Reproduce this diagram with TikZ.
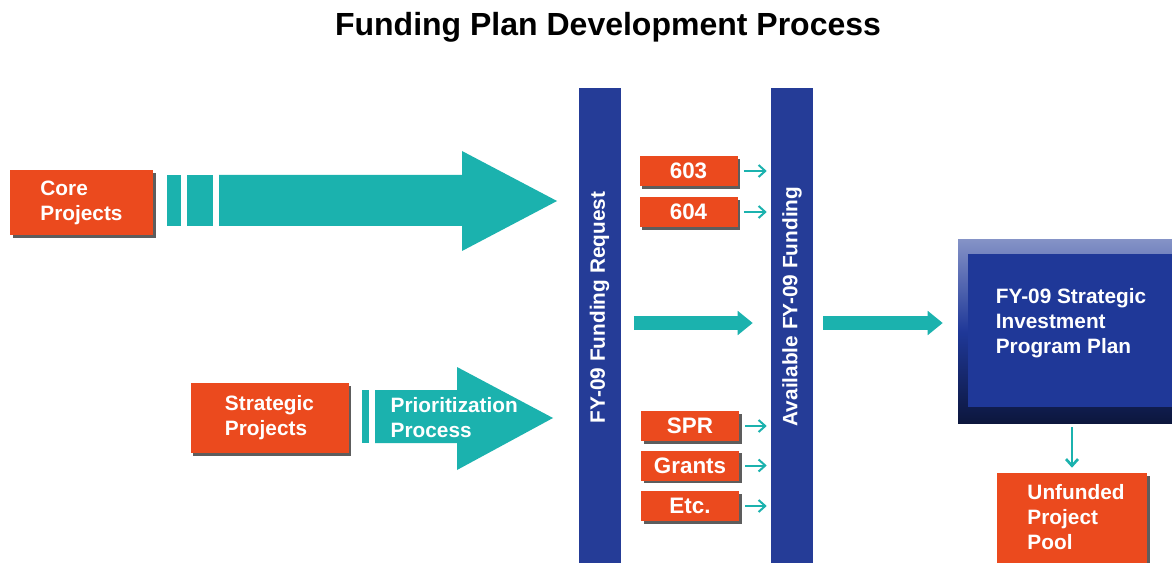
\documentclass[tikz,border=0pt]{standalone}
\usepackage{fontspec}
\setmainfont{Liberation Sans}
\usetikzlibrary{arrows.meta,shadows}
\definecolor{orng}{RGB}{235,74,30}
\definecolor{tealarrow}{RGB}{27,178,174}
\definecolor{barblue}{RGB}{37,60,151}
\definecolor{planblue}{RGB}{31,56,152}
\newcommand{\px}{0.75pt}

\begin{document}
\begin{tikzpicture}[x=0.75pt,y=-0.75pt,
  box/.style={fill=orng,text=white,inner sep=0pt,align=left,
    font=\bfseries\fontsize{15.6}{18.8}\selectfont,
    drop shadow={shadow xshift=2pt,shadow yshift=-2pt,fill=black!70,opacity=0.9}},
  smallbox/.style={box,font=\bfseries\fontsize{16.8}{18}\selectfont,
    minimum width=98*\px,minimum height=30*\px},
  bar/.style={fill=barblue,inner sep=0pt,minimum width=42*\px,minimum height=480*\px},
  bartext/.style={rotate=90,text=white,font=\bfseries\fontsize{15.6}{18.8}\selectfont},
  thinarrow/.style={draw=tealarrow,line width=1.5pt,-{Straight Barb[length=5pt,width=9pt]}},
  fatarrow/.style={draw=tealarrow,line width=9.75pt,-{Triangle[length=11.25pt,width=17.5pt]}},
  bigarrow/.style={fill=tealarrow}]
\useasboundingbox (0,0) rectangle (1172,563);
\fill[white] (0,0) rectangle (1172,563);
\clip (0,0) rectangle (1172,563);

\node[font=\bfseries\fontsize{24}{28}\selectfont] (title) at (608,27) {Funding Plan Development Process};

\node[box,minimum width=143*\px,minimum height=65*\px] (core) at (81.5,202.5) {Core\\Projects};
\node[box,minimum width=158*\px,minimum height=70*\px] (strat) at (269.5,418) {Strategic\\Projects};

\fill[bigarrow] (167,175) rectangle (181,226);
\fill[bigarrow] (187,175) rectangle (213,226);
\fill[bigarrow] (219,175) -- (462,175) -- (462,151) -- (557,201) -- (462,251) -- (462,226) -- (219,226) -- cycle;

\fill[bigarrow] (362,390) rectangle (369,443);
\fill[bigarrow] (375,390) -- (457,390) -- (457,367) -- (553,418) -- (457,470) -- (457,443) -- (375,443) -- cycle;
\node[anchor=west,text=white,align=left,font=\bfseries\fontsize{15.6}{18.8}\selectfont] (prio) at (386,417.5) {Prioritization\\Process};

\node[bar] (req) at (599.5,328) {};
\node[bartext] (reqtext) at (599.5,307.5) {FY-09 Funding Request};
\node[bar] (avail) at (792,328) {};
\node[bartext] (availtext) at (792,306.5) {Available FY-09 Funding};

\node[smallbox] (f603) at (688.5,171) {603};
\node[smallbox] (f604) at (688.5,212) {604};
\node[smallbox] (spr) at (690,426) {SPR};
\node[smallbox] (grants) at (690,465.5) {Grants};
\node[smallbox] (etc) at (690,506) {Etc.};

\foreach \src in {f603,f604,spr,grants,etc}
  \draw[thinarrow] ([xshift=6*\px]\src.east) -- ([xshift=-4*\px]\src.east -| avail.west);

\coordinate (midline) at (0,323);
\draw[fatarrow] ([xshift=13*\px]req.east |- midline) -- ([xshift=-18*\px]avail.west |- midline);

\node[inner sep=0pt,minimum width=228*\px,minimum height=183*\px,
  top color=planblue!55!white,bottom color=planblue!40!black,middle color=planblue] (plan) at (1072,331.5) {};
\fill[planblue] ([xshift=10*\px,yshift=-14*\px]plan.north west) rectangle ([xshift=-10*\px,yshift=16*\px]plan.south east);
\node[text=white,align=left,font=\bfseries\fontsize{15.6}{18.8}\selectfont] (plantext) at (1071,323.5) {FY-09 Strategic\\Investment\\Program Plan};

\draw[fatarrow] ([xshift=10*\px]avail.east |- midline) -- ([xshift=-15*\px]plan.west |- midline);

\node[box,minimum width=150*\px,minimum height=96*\px] (pool) at (1072,521) {};
\node[text=white,align=left,font=\bfseries\fontsize{15.6}{18.8}\selectfont] (pooltext) at (1076,517) {Unfunded\\Project\\Pool};
\draw[thinarrow,line width=2pt,shorten <=4*\px,shorten >=5*\px] (plan.south -| pool.north) -- (pool.north);
\end{tikzpicture}
\end{document}
